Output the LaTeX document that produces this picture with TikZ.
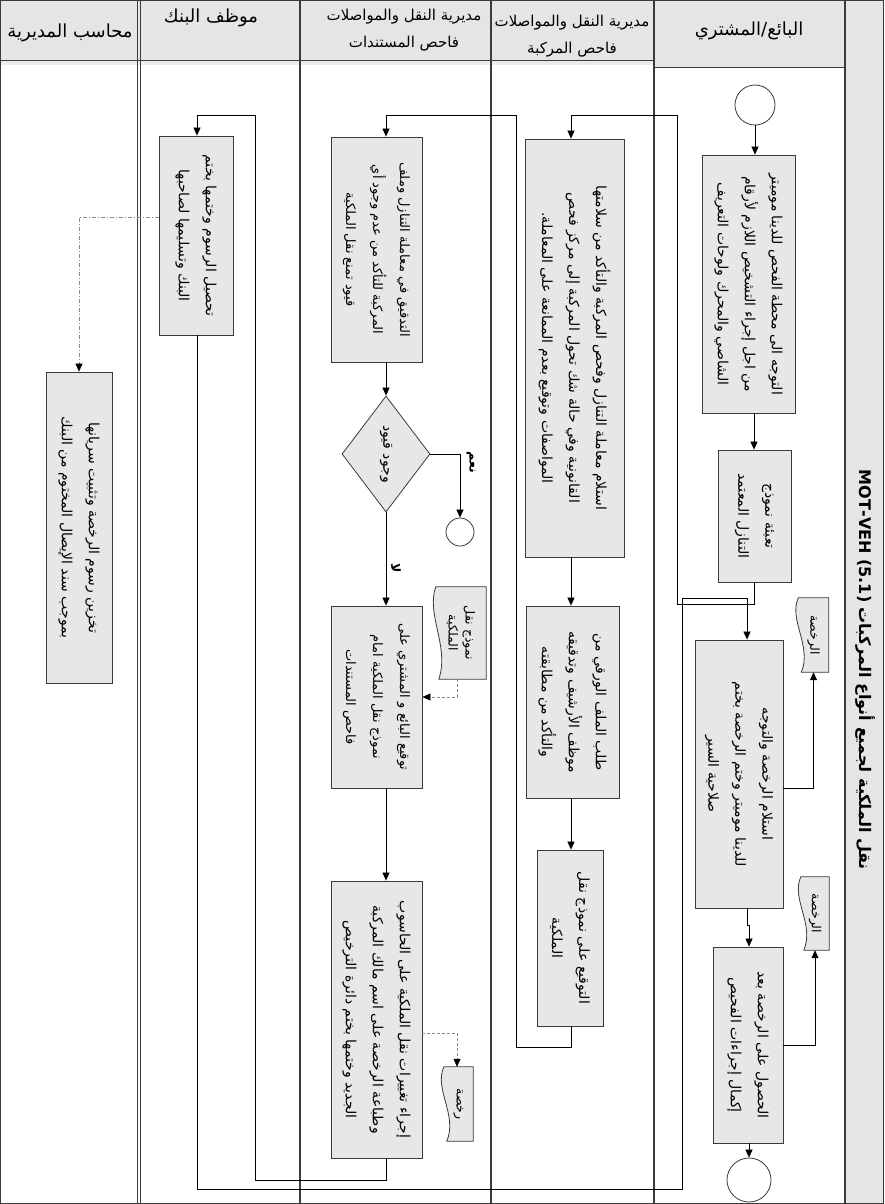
\documentclass[tikz,border=0pt]{standalone}
\usepackage{fontspec}
\usetikzlibrary{arrows.meta,calc,shapes.geometric}
\setmainfont{DejaVu Sans}
\newfontfamily\ar[Script=Arabic]{DejaVu Sans}
\TeXXeTstate=1
\definecolor{boxc}{HTML}{E6E7E8}
\definecolor{bordc}{HTML}{3A3A3A}
\definecolor{hdc}{HTML}{E4E5E6}
\newcommand\ArR[1]{\beginR #1\endR}
\newcommand\docdraw[1]{%
  \draw[docln] (#1.north west) -- (#1.north east) -- (#1.south east) -- ($(#1.south west)+(3,0)$)
    .. controls ($(#1.south west)!0.35!(#1.north west)+(14,0)$) and ($(#1.south west)!0.7!(#1.north west)+(-10,0)$) .. (#1.north west) -- cycle;}
\begin{document}
\begin{tikzpicture}[x=1pt,y=-1pt,
  box/.style 2 args={draw=bordc, fill=boxc, line width=0.8pt, rectangle, minimum width=#1, minimum height=#2, inner sep=0pt},
  dochold/.style 2 args={rectangle, minimum width=#1, minimum height=#2, inner sep=0pt},
  docln/.style={draw=bordc, fill=boxc, line width=0.8pt},
  txt/.style={rotate=-90, align=center, inner sep=0pt, font=\ar\fontsize{14}{27}\selectfont},
  txtb/.style={rotate=-90, align=center, inner sep=0pt, font=\ar\fontsize{13}{27}\selectfont},
  dtxt/.style={rotate=-90, align=center, inner sep=0pt, font=\ar\fontsize{12.5}{17}\selectfont},
  hd/.style={align=center, inner sep=0pt, font=\ar\fontsize{15}{27}\selectfont},
  hdl/.style={align=center, inner sep=0pt, font=\ar\fontsize{18}{27}\selectfont},
  circ/.style={circle, draw=bordc, fill=white, line width=0.8pt, inner sep=0pt, minimum size=#1},
  dia/.style={diamond, draw=bordc, fill=boxc, line width=0.8pt, inner sep=0pt, minimum width=88pt, minimum height=116pt},
  lane/.style={draw=bordc, line width=1.1pt},
  arr/.style={draw=black, line width=0.7pt, -{Triangle[length=8pt,width=7pt]}},
  darr/.style={draw=black!45, line width=0.6pt, dash pattern=on 3pt off 2pt, -{Triangle[length=8pt,width=7pt,fill=black,color=black]}},
  ddarr/.style={draw=black!45, line width=0.6pt, dash pattern=on 4pt off 2pt on 1pt off 2pt, -{Triangle[length=8pt,width=7pt,fill=black,color=black]}},
  lbl/.style={rotate=-90, inner sep=0pt, font=\ar\bfseries\fontsize{12.5}{14}\selectfont}]
\useasboundingbox (0,0) rectangle (884,1204);
% header and title strip
\fill[hdc] (0,0) rectangle (845,60);
\fill[hdc] (654,0) rectangle (845,67);
\fill[black!8] (0,60) rectangle (654,65);
\fill[hdc] (845,0) rectangle (884,1204);
\draw[bordc, line width=0.9pt] (0,60) -- (654,60);
\draw[bordc, line width=0.9pt] (654,67) -- (845,67);
\foreach \x in {300,491,654,845} \draw[lane] (\x,0) -- (\x,1204);
\draw[bordc, line width=0.7pt] (137.5,0) -- (137.5,1204);
\draw[bordc, line width=0.7pt] (140.5,0) -- (140.5,1204);
\draw[bordc, line width=1.1pt] (0.6,0.6) rectangle (883.4,1203.4);
% header texts
\node[hdl] (hA) at (70,33) {\ArR{محاسب المديرية}};
\node[hdl] (hB) at (211,18) {\ArR{موظف البنك}};
\node[hd] (hC) at (404,30) {\ArR{مديرية النقل والمواصلات}\\\ArR{فاحص المستندات}};
\node[hd] (hD) at (572,36) {\ArR{مديرية النقل والمواصلات}\\\ArR{فاحص المركبة}};
\node[hdl] (hE) at (749,31) {\ArR{البائع/المشتري}};
\node[rotate=-90, inner sep=0pt, font=\ar\bfseries\fontsize{16}{20}\selectfont] (title) at (865,670) {MOT-VEH (5.1) \ArR{نقل الملكية لجميع أنواع المركبات}};
% coordinates for connector columns
\coordinate (xS) at (754,0);
\coordinate (xS3) at (747,0);
\coordinate (xS4) at (749,0);
\coordinate (xV) at (571,0);
\coordinate (xD) at (386,0);
\coordinate (xB) at (197,0);
\coordinate (cA) at (677,115);
\coordinate (cB) at (516,1047);
\coordinate (cB2) at (516,115);
\coordinate (cC) at (682,1189);
\coordinate (cC2) at (682,598);
\coordinate (cD) at (255,1180);
\coordinate (cD2) at (255,115);
\coordinate (cE) at (79,217);
\coordinate (cN) at (457,697);
\coordinate (cR) at (457,1033);
\coordinate (yS3) at (0,788);
\coordinate (yS4) at (0,1045);
% seller lane
\node[circ=40pt] (start) at (755,105) {};
\node[box={93}{258}] (S1) at (748.5,284) {};
\node[txt] (S1t) at (S1) {\ArR{التوجه الى محطة الفحص للدينا موميتر}\\\ArR{من اجل إجراء التشخيص اللازم لأرقام}\\\ArR{الشاصي والمحرك ولوحات التعريف}};
\node[box={73}{132}] (S2) at (754.5,516) {};
\node[txt] (S2t) at (S2) {\ArR{تعبئة نموذج}\\\ArR{التنازل المعتمد}};
\node[box={88}{268}] (S3) at (739,774) {};
\node[txt] (S3t) at (S3) {\ArR{استلام الرخصة والتوجه}\\\ArR{للدينا موميتر وختم الرخصة بختم}\\\ArR{صلاحية السير}};
\node[box={70}{196}] (S4) at (748,1045) {};
\node[txt] (S4t) at (S4) {\ArR{الحصول على الرخصة بعد}\\\ArR{إكمال إجراءات الفحيص}};
\node[circ=44pt] (end) at (749,1180) {};
\node[dochold={30}{74}] (SL1) at (813.5,635) {};
\docdraw{SL1}
\node[dtxt] (SL1t) at (SL1) {\ArR{الرخصة}};
\node[dochold={28}{73}] (SL2) at (815,913.5) {};
\docdraw{SL2}
\node[dtxt] (SL2t) at (SL2) {\ArR{الرخصة}};
% vehicle inspector lane
\node[box={99}{418}] (V1) at (574.5,348) {};
\node[txt] (V1t) at (V1) {\ArR{استلام معاملة التنازل وفحص المركبة والتأكد من سلامتها}\\\ArR{القانونية وفي حالة شك تحول المركبة إلى مركز فحص}\\\ArR{المواصفات وتوقيع بعدم الممانعة على المعاملة.}};
\node[box={93}{192}] (V2) at (572.5,702) {};
\node[txt] (V2t) at (V2) {\ArR{طلب الملف الورقي من}\\\ArR{موظف الأرشيف وتدقيقه}\\\ArR{والتأكد من مطابقته}};
\node[box={66}{176}] (V3) at (570,938) {};
\node[txt] (V3t) at (V3) {\ArR{التوقيع على نموذج نقل}\\\ArR{الملكية}};
% document inspector lane
\node[box={91}{225}] (D1) at (376.5,249.5) {};
\node[txtb] (D1t) at (D1) {\ArR{التدقيق في معاملة التنازل وملف}\\\ArR{المركبة للتأكد من عدم وجود أي}\\\ArR{قيود تمنع نقل الملكية}};
\node[dia] (Q) at (386,454) {};
\node[txt] (Qt) at (Q) {\ArR{وجود قيود}};
\node[circ=28pt] (stop) at (460,532) {};
\node[box={91}{182}] (D2) at (376.5,697) {};
\node[txtb] (D2t) at (D2) {\ArR{توقيع البائع و المشتري على}\\\ArR{نموذج نقل الملكية امام}\\\ArR{فاحص المستندات}};
\node[dochold={50}{92}] (DN) at (461,633) {};
\docdraw{DN}
\node[dtxt] (DNt) at (DN) {\ArR{نموذج نقل}\\\ArR{الملكية}};
\node[box={91}{277}] (D3) at (376.5,1019.5) {};
\node[txt] (D3t) at (D3) {\ArR{إجراء تغييرات نقل الملكية على الحاسوب}\\\ArR{وطباعة الرخصة على اسم مالك المركبة}\\\ArR{الجديد وختمها بختم دائرة الترخيص}};
\node[dochold={29}{74}] (DR) at (458.5,1104) {};
\docdraw{DR}
\node[dtxt] (DRt) at (DR) {\ArR{رخصة}};
\node[lbl] (yes) at (471,462) {\ArR{نعم}};
\node[lbl] (no) at (396,568) {\ArR{لا}};
% bank lane
\node[box={74}{199}] (B1) at (196,235.5) {};
\node[txt] (B1t) at (B1) {\ArR{تحصيل الرسوم وختمها بختم}\\\ArR{البنك وتسليمها لصاحبها}};
% accountant lane
\node[box={66}{311}] (A1) at (79,527.5) {};
\node[txt] (A1t) at (A1) {\ArR{تخزين رسوم الرخصة وتثبيت سريانها}\\\ArR{بموجب سند الإيصال المختوم من البنك}};
% connectors
\draw[arr] (start) -- (S1.north -| start);
\draw[arr] (S1.south -| xS) -- (S2.north -| xS);
\draw[arr] (S2.south -| xS) -- ++(0,22) -| (cA) -| (V1.north -| xV);
\draw[arr] (B1.south -| xB) |- (cC) -- (cC2) -| (S3.north -| xS3);
\draw[arr] (S3.east |- yS3) -| (SL1.south);
\draw[arr] (S3.south -| xS3) -- ++(0,17) -| (S4.north -| xS4);
\draw[arr] (S4.east |- yS4) -| (SL2.south);
\draw[arr] (S4.south -| end) -- (end.north);
\draw[arr] (V1.south -| xV) -- (V2.north -| xV);
\draw[arr] (V2.south -| xV) -- (V3.north -| xV);
\draw[arr] (V3.south -| xV) |- (cB) -- (cB2) -| (D1.north -| xD);
\draw[arr] (D1.south -| xD) -- (Q.north);
\draw[arr] (Q.east) -| (stop.north);
\draw[arr] (Q.south) -- (D2.north -| xD);
\draw[darr] (DN.south -| cN) -- (cN) -- (D2.east |- cN);
\draw[arr] (D2.south -| xD) -- (D3.north -| xD);
\draw[darr] (D3.east |- cR) -- (cR) -- (DR.north -| cR);
\draw[arr] (D3.south -| xD) |- (cD) -- (cD2) -| (B1.north -| xB);
\draw[ddarr] (B1.west |- cE) -- (cE) -- (A1.north);
\end{tikzpicture}
\end{document}
